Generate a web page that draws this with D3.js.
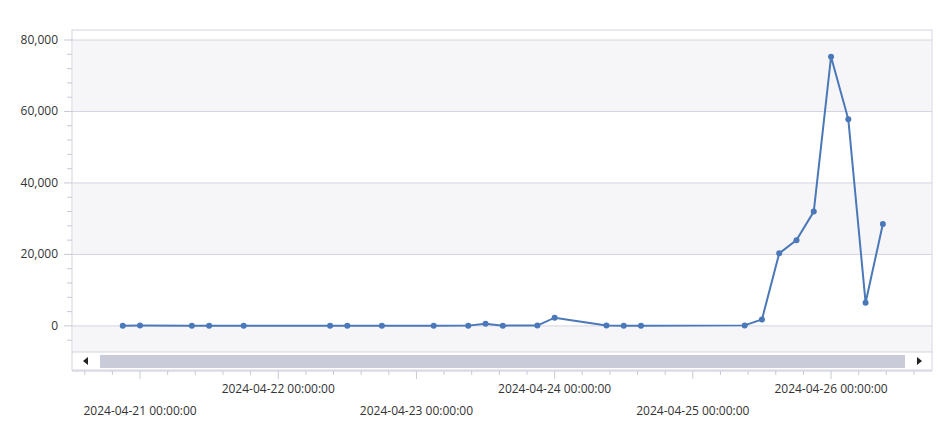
<!DOCTYPE html>
<html><head><meta charset="utf-8">
<script src="https://cdn.jsdelivr.net/npm/d3@7"></script>
<style>body{margin:0;background:#fff;font-family:"Open Sans","Noto Sans",sans-serif;}</style>
</head><body><svg id="c" width="940" height="431"></svg>
<script>
// time stamps and values
let times = [
  "2024-04-20 21:00","2024-04-21 00:00","2024-04-21 09:00","2024-04-21 12:00","2024-04-21 18:00",
  "2024-04-22 09:00","2024-04-22 12:00","2024-04-22 18:00","2024-04-23 03:00","2024-04-23 09:00",
  "2024-04-23 12:00","2024-04-23 15:00","2024-04-23 21:00","2024-04-24 00:00","2024-04-24 09:00",
  "2024-04-24 12:00","2024-04-24 15:00","2024-04-25 09:00","2024-04-25 12:00","2024-04-25 15:00",
  "2024-04-25 18:00","2024-04-25 21:00","2024-04-26 00:00","2024-04-26 03:00","2024-04-26 06:00",
  "2024-04-26 09:00"
];
let values = [
  50, 100, 80, 60, 40,
  50, 60, 40, 60, 80,
  600, 80, 100, 2300, 100,
  80, 60, 150, 1800, 20300,
  24000, 32000, 75300, 57800, 6500,
  28500
];
let yTicks = [0, 20000, 40000, 60000, 80000];
let xLabelDays = ["2024-04-21","2024-04-22","2024-04-23","2024-04-24","2024-04-25","2024-04-26"];

var parseTime = d3.timeParse("%Y-%m-%d %H:%M");
var parseDay = d3.timeParse("%Y-%m-%d");
let data = times.map((t,i)=>({t: parseTime(t), v: values[i]}));

let svg = d3.select("#c");
let L = 72, R = 932, T = 30, B = 352;

let x = d3.scaleTime()
    .domain([parseTime("2024-04-20 12:11"), parseTime("2024-04-26 17:32")])
    .range([L, R]);
let y = d3.scaleLinear().domain([-7300, 82800]).range([B, T]);

// plot background bands
svg.append("rect").attr("x",L).attr("y",T).attr("width",R-L).attr("height",B-T)
   .attr("fill","#fff").attr("stroke","#d4d4e2");
[[-7300,0],[20000,40000],[60000,80000]].forEach(b=>{
  svg.append("rect").attr("x",L+1).attr("width",R-L-2)
     .attr("y",y(b[1])).attr("height",y(b[0])-y(b[1])).attr("fill","#f6f6f9");
});
svg.selectAll(".grid").data(yTicks).join("line")
   .attr("x1",L).attr("x2",R).attr("y1",d=>y(d)).attr("y2",d=>y(d))
   .attr("stroke","#d4d4e2");

// y axis labels and ticks
svg.selectAll(".yl").data(yTicks).join("text")
   .attr("x",58).attr("y",d=>y(d)+4).attr("text-anchor","end")
   .attr("font-size",12).attr("fill","#333").text(d3.format(","));
d3.range(-4000, 82000, 4000).forEach(v=>{
  let major = v % 20000 === 0;
  svg.append("line").attr("x1",major?64:67).attr("x2",L).attr("y1",y(v)).attr("y2",y(v))
     .attr("stroke","#c8c8d8");
});

// scrollbar
svg.append("rect").attr("x",L).attr("y",B).attr("width",R-L).attr("height",18)
   .attr("fill","#fff").attr("stroke","#d4d4e2");
svg.append("rect").attr("x",100).attr("y",B+3).attr("width",805).attr("height",13).attr("fill","#c9cbd9");
svg.append("path").attr("d",`M83,${B+9}l5,-4v8z`).attr("fill","#222");
svg.append("path").attr("d",`M922,${B+9}l-5,-4v8z`).attr("fill","#222");

// x axis
let axY = B+19;
svg.append("line").attr("x1",L).attr("x2",R).attr("y1",axY).attr("y2",axY).attr("stroke","#c8c8d8");
x.ticks(d3.timeHour.every(1)).filter(d=>{
  let h = (d - parseDay("2024-04-20")) / 3600000;
  return Math.abs(h/4.8 - Math.round(h/4.8)) < 0.11;
});
let start = parseDay("2024-04-20");
for (let k = 0; k < 40; k++) {
  let d = new Date(+start + k*4.8*3600000);
  if (d < x.domain()[0] || d > x.domain()[1]) continue;
  let major = k % 5 === 0;
  svg.append("line").attr("x1",x(d)).attr("x2",x(d)).attr("y1",axY)
     .attr("y2",axY+(major?8:4)).attr("stroke","#c8c8d8");
}
svg.selectAll(".xl").data(xLabelDays).join("text")
   .attr("x",d=>x(parseDay(d))).attr("y",(d,i)=>i%2?393:415)
   .attr("text-anchor","middle").attr("font-size",12).attr("fill","#333")
   .text(d=>d+" 00:00:00");

// line and markers
svg.append("path").datum(data)
   .attr("d", d3.line().x(d=>x(d.t)).y(d=>y(d.v)))
   .attr("fill","none").attr("stroke","#4a78b8").attr("stroke-width",2);
svg.selectAll(".pt").data(data).join("circle")
   .attr("cx",d=>x(d.t)).attr("cy",d=>y(d.v)).attr("r",3).attr("fill","#4a78b8");
</script></body></html>
